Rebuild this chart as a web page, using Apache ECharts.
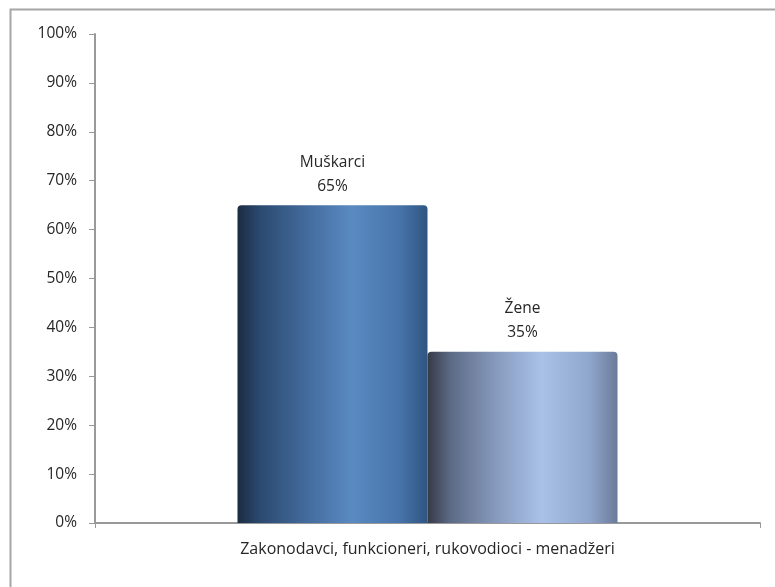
<!DOCTYPE html>
<html>
<head>
<meta charset="utf-8">
<script src="https://cdn.jsdelivr.net/npm/echarts@6/dist/echarts.min.js"></script>
<style>
  html, body { margin: 0; padding: 0; background: #fff; overflow: hidden; }
  #chart { width: 775px; height: 587px; }
</style>
</head>
<body>
<div id="chart"></div>
<script>
// Data
const categories = ['Zakonodavci, funkcioneri, rukovodioci - menadžeri'];
const seriesNames = ['Muškarci', 'Žene'];
const muskarci = [65];
const zene = [35];
const yTicks = { min: 0, max: 100, interval: 10 };

const FONT = '"Open Sans", sans-serif';
const TEXT = '#262626';

function cylinder(stops) {
  return new echarts.graphic.LinearGradient(0, 0, 1, 0,
    stops.map(([offset, color]) => ({ offset, color })));
}

const chart = echarts.init(document.getElementById('chart'), null, { renderer: 'canvas' });

const labelOpt = {
  show: true,
  position: 'top',
  distance: 7,
  formatter: p => p.seriesName + '\n' + p.value + '%',
  fontFamily: FONT,
  fontSize: 15.5,
  lineHeight: 24,
  color: TEXT
};

chart.setOption({
  animation: false,
  backgroundColor: '#fff',
  graphic: [{
    type: 'rect',
    shape: { x: 10.5, y: 9.5, width: 1200, height: 1000 },
    style: { fill: 'none', stroke: '#a6a6a6', lineWidth: 2 },
    silent: true,
    z: -1
  }],
  grid: { left: 95, right: 15, top: 34, bottom: 64, containLabel: false },
  xAxis: {
    type: 'category',
    data: categories,
    axisLine: { lineStyle: { color: '#999', width: 2 } },
    axisTick: { show: true, length: 5, lineStyle: { color: '#999' } },
    axisLabel: { margin: 18, fontFamily: FONT, fontSize: 16, color: TEXT }
  },
  yAxis: {
    type: 'value',
    min: yTicks.min,
    max: yTicks.max,
    interval: yTicks.interval,
    splitLine: { show: false },
    axisLine: { show: true, lineStyle: { color: '#999', width: 2 } },
    axisTick: { show: true, length: 6, lineStyle: { color: '#999' } },
    axisLabel: { formatter: '{value}%', margin: 18, fontFamily: FONT, fontSize: 15.5, color: TEXT }
  },
  series: [
    {
      name: seriesNames[0],
      type: 'bar',
      data: muskarci,
      barWidth: 190,
      barGap: '0%',
      label: labelOpt,
      itemStyle: {
        borderRadius: [4, 4, 0, 0],
        color: cylinder([
          [0, '#1b2c42'], [0.12, '#2b4a70'], [0.35, '#42699a'],
          [0.6, '#5a8ac2'], [0.85, '#4774ab'], [1, '#2f5682']
        ])
      }
    },
    {
      name: seriesNames[1],
      type: 'bar',
      data: zene,
      barWidth: 190,
      barGap: '0%',
      label: labelOpt,
      itemStyle: {
        borderRadius: [4, 4, 0, 0],
        color: cylinder([
          [0, '#363a46'], [0.12, '#5c6a85'], [0.35, '#8598bb'],
          [0.6, '#a9c1e8'], [0.85, '#90a7cd'], [1, '#6b7b99']
        ])
      }
    }
  ]
});
</script>
</body>
</html>
